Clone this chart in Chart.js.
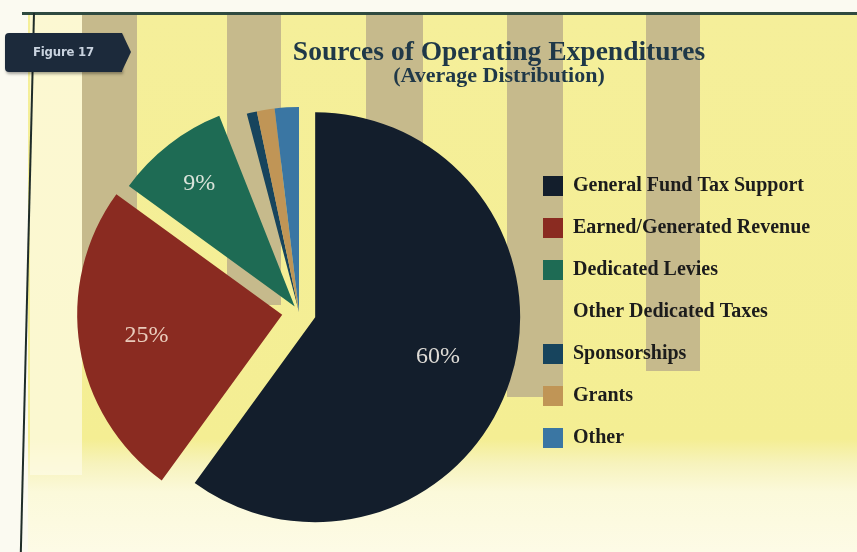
<!DOCTYPE html>
<html>
<head>
<meta charset="utf-8">
<title>Sources of Operating Expenditures</title>
<script src="https://cdn.jsdelivr.net/npm/chart.js@4.4.1/dist/chart.umd.min.js"></script>
<style>
  html, body { margin: 0; padding: 0; }
  body { width: 857px; height: 552px; position: relative; overflow: hidden; background: #fbfaf1; }
  .panel { position: absolute; left: 28px; top: 14px; right: 0; bottom: 0;
    background: linear-gradient(to bottom, #f5ef9a 0, #f4ee93 425px, #f7f3bd 450px, #fbf9da 478px, #fdfbe6 100%); }
  .pale { position: absolute; left: 30px; top: 15px; width: 52px; height: 460px; background: rgba(253, 251, 228, 0.75); }
  .stripe { position: absolute; top: 15px; background: #c6ba8c; }
  .frame-top { position: absolute; left: 22px; top: 12px; right: 0; height: 3px; background: #2f4a40; }
  .frame-left { position: absolute; left: 33px; top: 13px; width: 2px; height: 545px; background: #1f2c29;
    transform-origin: top left; transform: rotate(1.4deg); }
  canvas { position: absolute; left: 0; top: 0; }
  .tag { position: absolute; left: 5px; top: 33px; width: 117px; height: 39px; background: #1c2a3b;
    border-radius: 4px 0 0 4px; box-shadow: 1px 2px 3px rgba(0, 0, 0, 0.35); }
  .tag::after { content: ''; position: absolute; left: 117px; top: 0;
    border-top: 19.5px solid transparent; border-bottom: 19.5px solid transparent; border-left: 9px solid #1c2a3b; }
  .tag span { position: absolute; left: 0; right: 0; top: 11px; text-align: center;
    font: bold 13px "DejaVu Sans"; font-stretch: condensed; color: #c9d3df; letter-spacing: -0.2px; }
  .title { position: absolute; left: 199px; width: 600px; text-align: center; white-space: nowrap;
    font-family: "Liberation Serif"; font-weight: bold; color: #1f3848; }
  .t1 { top: 37px; font-size: 27.5px; line-height: 27px; }
  .t2 { top: 64px; font-size: 22px; line-height: 22px; }
</style>
</head>
<body>
<div class="panel"></div>
<div class="pale"></div>
<div class="stripe" style="left:82px;width:55px;height:290px"></div>
<div class="stripe" style="left:227px;width:54px;height:290px"></div>
<div class="stripe" style="left:366px;width:57px;height:380px"></div>
<div class="stripe" style="left:507px;width:56px;height:382px"></div>
<div class="stripe" style="left:646px;width:54px;height:356px"></div>
<div class="frame-top"></div>
<div class="frame-left"></div>
<canvas id="chart" width="857" height="552"></canvas>
<div class="tag"><span>Figure 17</span></div>
<div class="title t1">Sources of Operating Expenditures</div>
<div class="title t2">(Average Distribution)</div>
<script>
// funding sources, share of operating budget (%)
const categories = [
  'General Fund Tax Support',
  'Earned/Generated Revenue',
  'Dedicated Levies',
  'Other Dedicated Taxes',
  'Sponsorships',
  'Grants',
  'Other'
];
const shares = [60, 25, 9, 1.9, 0.8, 1.4, 1.9];

const sliceColors = ['#131e2c', '#8a2b21', '#1e6b54', 'rgba(0,0,0,0)', '#17445d', '#c09556', '#3a76a3'];
const labelColors = ['#dedbd6', '#e9cbbb', '#d9e3da', '', '', '', ''];

const legendFont = { family: 'Liberation Serif', weight: 'bold', size: 20 };
const legendPad = 22;
const legendBox = 20;

// legend sits just right of the pie; work out its natural width so the
// right padding leaves the pie area where we want it
const measure = document.createElement('canvas').getContext('2d');
measure.font = 'bold 20px "Liberation Serif"';
const longest = Math.max(...categories.map(c => measure.measureText(c).width));
const legendWidth = legendPad + legendBox + legendFont.size / 2 + longest + 10;
const pieRight = 521;
const padRight = Math.max(0, 857 - pieRight - legendWidth);

// pull slices away from the centre without letting Chart.js grow the big arcs
const explodeSlices = {
  id: 'explodeSlices',
  beforeDatasetsDraw(chart) {
    const ds = chart.data.datasets[0];
    chart.getDatasetMeta(0).data.forEach((arc, i) => {
      if (arc._wrapped) return;
      arc._wrapped = true;
      const baseDraw = arc.draw;
      arc.draw = function (ctx) {
        const mid = (this.startAngle + this.endAngle) / 2;
        const d = ds.explode[i] || 0;
        ctx.save();
        ctx.translate(Math.cos(mid) * d, Math.sin(mid) * d);
        baseDraw.call(this, ctx);
        ctx.restore();
      };
    });
  }
};

// percentage text inside the larger slices
const sliceLabels = {
  id: 'sliceLabels',
  afterDatasetsDraw(chart) {
    const ds = chart.data.datasets[0];
    const ctx = chart.ctx;
    ctx.save();
    ctx.font = '24px "Liberation Serif"';
    ctx.textAlign = 'center';
    ctx.textBaseline = 'middle';
    chart.getDatasetMeta(0).data.forEach((arc, i) => {
      const v = ds.data[i];
      if (v < 5) return;
      const mid = (arc.startAngle + arc.endAngle) / 2;
      const d = ds.explode[i] + arc.outerRadius * (v > 40 ? 0.63 : v > 15 ? 0.67 : 0.76);
      ctx.fillStyle = labelColors[i];
      ctx.fillText(v + '%', arc.x + Math.cos(mid) * d, arc.y + Math.sin(mid) * d);
    });
    ctx.restore();
  }
};

new Chart(document.getElementById('chart'), {
  type: 'pie',
  data: {
    labels: categories,
    datasets: [{
      data: shares,
      backgroundColor: sliceColors,
      borderWidth: 0,
      explode: [17, 17, 7, 0, 0, 0, 0]
    }]
  },
  options: {
    responsive: false,
    animation: false,
    events: [],
    layout: { padding: { left: 77, top: 107, bottom: 35, right: padRight } },
    plugins: {
      tooltip: { enabled: false },
      legend: {
        position: 'right',
        align: 'center',
        labels: {
          boxWidth: legendBox,
          boxHeight: legendBox,
          padding: legendPad,
          color: '#1c1c1c',
          font: legendFont
        }
      }
    }
  },
  plugins: [explodeSlices, sliceLabels]
});
</script>
</body>
</html>
